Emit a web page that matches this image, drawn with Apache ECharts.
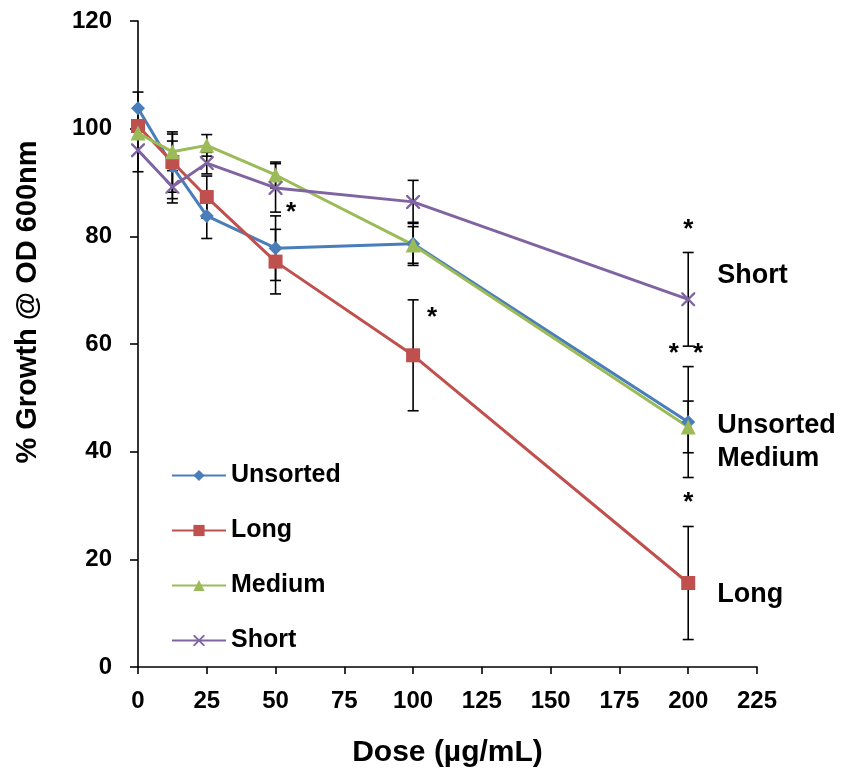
<!DOCTYPE html>
<html>
<head>
<meta charset="utf-8">
<script src="https://cdn.jsdelivr.net/npm/echarts@6/dist/echarts.min.js"></script>
<style>
  html, body { margin: 0; padding: 0; background: #fff; }
  #chart { width: 845px; height: 777px; }
</style>
</head>
<body>
<div id="chart"></div>
<script>
// dose values (µg/mL)
var doses = [0, 12.5, 25, 50, 100, 200];

// % growth per strain group
var unsorted = [103.8, 93.0, 83.8, 77.8, 78.6, 45.5];
var long = [100.5, 93.8, 87.3, 75.3, 57.9, 15.6];
var medium = [99.2, 95.7, 96.9, 91.4, 78.4, 44.6];
var shortG = [96.0, 89.2, 93.6, 89.0, 86.4, 68.3];

// error bar half-lengths
var unsortedErr = [3.0, 6.0, 4.2, 6.0, 4.0, 10.3];
var longErr = [1.0, 5.6, 3.9, 6.0, 10.3, 10.5];
var mediumErr = [1.0, 2.0, 2.0, 2.4, 3.4, 4.8];
var shortErr = [4.0, 3.0, 2.0, 4.5, 4.0, 8.7];

// significance marks and end labels
var annX = [55.6, 106.9, 200, 194.8, 203.6, 200];
var annY = [84.3, 64.9, 81.3, 58.1, 58.1, 30.5];
var annText = ['*', '*', '*', '*', '*', '*'];
var endX = [200, 200, 200, 200];
var endY = [72.8, 44.9, 38.8, 13.4];
var endText = ['Short', 'Unsorted', 'Medium', 'Long'];

var xTicks = [0, 225, 25];
var yTicks = [0, 120, 20];

var FONT = 'Liberation Sans, Arial, sans-serif';
var crossPath = 'path://M0,0 L1.2,0 L5,3.8 L8.8,0 L10,0 L10,1.2 L6.2,5 L10,8.8 L10,10 L8.8,10 L5,6.2 L1.2,10 L0,10 L0,8.8 L3.8,5 L0,1.2 Z';

function pairs(ys) {
  return doses.map(function (d, i) { return [d, ys[i]]; });
}

function errData(ys, es) {
  return doses.map(function (d, i) { return [d, ys[i] - es[i], ys[i] + es[i]]; });
}

function renderErr(params, api) {
  var lo = api.coord([api.value(0), api.value(1)]);
  var hi = api.coord([api.value(0), api.value(2)]);
  var w = 5.5;
  var st = { stroke: '#000', lineWidth: 1.6 };
  return {
    type: 'group',
    children: [
      { type: 'line', shape: { x1: lo[0], y1: lo[1], x2: hi[0], y2: hi[1] }, style: st },
      { type: 'line', shape: { x1: lo[0] - w, y1: lo[1], x2: lo[0] + w, y2: lo[1] }, style: st },
      { type: 'line', shape: { x1: hi[0] - w, y1: hi[1], x2: hi[0] + w, y2: hi[1] }, style: st }
    ]
  };
}

function errSeries(ys, es) {
  return {
    type: 'custom',
    renderItem: renderErr,
    data: errData(ys, es),
    z: 1,
    silent: true,
    animation: false
  };
}

function lineSeries(name, ys, color, symbol, size) {
  return {
    name: name,
    type: 'line',
    data: pairs(ys),
    symbol: symbol,
    symbolSize: size,
    showAllSymbol: true,
    z: 3,
    lineStyle: { color: color, width: 3 },
    itemStyle: { color: color },
    animation: false
  };
}

function textSeries(xs, ys, txt, label) {
  return {
    type: 'scatter',
    symbolSize: 0,
    silent: true,
    animation: false,
    z: 5,
    itemStyle: { opacity: 1 },
    data: xs.map(function (x, i) { return { value: [x, ys[i]], name: txt[i] }; }),
    label: label
  };
}

var chart = echarts.init(document.getElementById('chart'));

var option = {
  backgroundColor: '#fff',
  grid: { left: 138, right: 88, top: 21, bottom: 110 },
  graphic: [{
    type: 'text',
    x: 28,
    y: 302,
    rotation: Math.PI / 2,
    style: {
      text: '% Growth @ OD 600nm',
      fontFamily: FONT,
      fontSize: 29,
      fontWeight: 'bold',
      fill: '#000',
      align: 'center',
      verticalAlign: 'middle'
    }
  }],
  legend: {
    orient: 'vertical',
    left: 166,
    top: 458,
    itemWidth: 54,
    itemHeight: 14,
    itemGap: 30,
    data: ['Unsorted', 'Long', 'Medium', 'Short'],
    textStyle: { fontFamily: FONT, fontSize: 25, fontWeight: 'bold', color: '#000' }
  },
  xAxis: {
    type: 'value',
    min: xTicks[0],
    max: xTicks[1],
    interval: xTicks[2],
    name: 'Dose (µg/mL)',
    nameLocation: 'middle',
    nameGap: 71,
    nameTextStyle: { fontFamily: FONT, fontSize: 30, fontWeight: 'bold', color: '#000' },
    splitLine: { show: false },
    axisLine: { lineStyle: { color: '#000', width: 1.6 } },
    axisTick: { inside: false, length: 7, lineStyle: { color: '#000', width: 1.6 } },
    axisLabel: { margin: 22, fontFamily: FONT, fontSize: 24, fontWeight: 'bold', color: '#000' }
  },
  yAxis: {
    type: 'value',
    min: yTicks[0],
    max: yTicks[1],
    interval: yTicks[2],
    splitLine: { show: false },
    axisLine: { show: true, lineStyle: { color: '#000', width: 1.6 } },
    axisTick: { show: true, inside: false, length: 8, lineStyle: { color: '#000', width: 1.6 } },
    axisLabel: { margin: 26, fontFamily: FONT, fontSize: 24, fontWeight: 'bold', color: '#000' }
  },
  series: [
    errSeries(unsorted, unsortedErr),
    errSeries(long, longErr),
    errSeries(medium, mediumErr),
    errSeries(shortG, shortErr),
    lineSeries('Unsorted', unsorted, '#4A7EBB', 'diamond', 14),
    lineSeries('Long', long, '#C0504D', 'rect', 14),
    lineSeries('Medium', medium, '#9BBB59', 'triangle', 15),
    lineSeries('Short', shortG, '#8064A2', crossPath, 14),
    textSeries(annX, annY, annText, {
      show: true,
      position: 'inside',
      formatter: '{b}',
      fontFamily: FONT,
      fontSize: 26,
      fontWeight: 'bold',
      color: '#000'
    }),
    textSeries(endX, endY, endText, {
      show: true,
      position: 'right',
      distance: 29,
      formatter: '{b}',
      fontFamily: FONT,
      fontSize: 27,
      fontWeight: 'bold',
      color: '#000'
    })
  ]
};

chart.setOption(option);
</script>
</body>
</html>
